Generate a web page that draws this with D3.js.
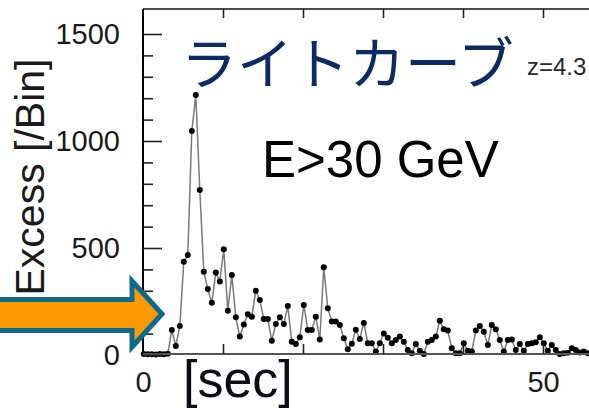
<!DOCTYPE html>
<html>
<head>
<meta charset="utf-8">
<script src="https://cdn.jsdelivr.net/npm/d3@7"></script>
<style>
  html, body { margin: 0; padding: 0; background: #fff; overflow: hidden; }
  svg { display: block; }
</style>
</head>
<body>
<svg id="chart" width="589" height="408"></svg>
<script>
// Light curve: excess counts per 0.5 s bin, E > 30 GeV
const binStart = 0.1;      // centre of the first bin [sec]
const binWidth = 0.5;      // [sec]
const excess = [
  5, 3, 4, 2, 5, 3, 6,
  117, 42, 135, 436, 467, 1047, 1215, 771, 389, 308, 244, 385, 344,
  494, 207, 374, 176, 86, 143, 190, 179, 300, 257, 168, 168, 67,
  145, 176, 145, 229, 62, 51, 83, 234, 117, 117, 179, 73, 410,
  218, 156, 156, 140, 78, 27, 53, 118, 75, 150, 55, 55, 16, 55,
  101, 81, 55, 70, 86, 62, 23, 8, 51, 20, 5, 62, 70, 86, 160,
  120, 114, 31, 8, 8, 55, 20, 16, 114, 136, 109, 47, 140, 120,
  70, 16, 70, 73, 23, 51, 20, 51, 55, 59, 83, 55, 20, 47, 23,
  5, 8, 11, 31, 23, 12, 16, 8, 10
];
const yMajorTicks = [0, 500, 1000, 1500];
const yMinorTicks = [100, 200, 300, 400, 600, 700, 800, 900, 1100, 1200, 1300, 1400];
const xTicks = [10, 20, 30, 40, 50];
const xTickLabels = [0, 50];

const titleText = "ライトカーブ";
const energyText = "E>30 GeV";
const redshiftText = "z=4.3";
const yAxisTitle = "Excess [/Bin]";
const xAxisTitle = "[sec]";

const svg = d3.select("#chart");
const frame = { left: 143, top: 9, bottom: 355, right: 600 };

const x = d3.scaleLinear().domain([0, 50]).range([143, 543]);
const y = d3.scaleLinear().domain([0, 1500]).range([355, 34]);

const points = excess.map((v, i) => ({ t: binStart + i * binWidth, v }));

const labelFont = "'Liberation Sans', Arial, Helvetica, sans-serif";

// ---- data: thin grey polyline with black markers
const g = svg.append("g");
g.append("path")
  .datum(points)
  .attr("fill", "none")
  .attr("stroke", "#7a7a7a")
  .attr("stroke-width", 1.5)
  .attr("d", d3.line().x(d => x(d.t)).y(d => y(d.v)));
g.selectAll("circle")
  .data(points)
  .join("circle")
  .attr("cx", d => x(d.t))
  .attr("cy", d => y(d.v))
  .attr("r", 3)
  .attr("fill", "#000");

// ---- frame lines
svg.append("path")
  .attr("d", `M${frame.left},${frame.top}V${frame.bottom}`)
  .attr("stroke", "#000").attr("stroke-width", 2).attr("fill", "none");
svg.append("path")
  .attr("d", `M${frame.left},${frame.top}H${frame.right}`)
  .attr("stroke", "#111").attr("stroke-width", 1.5).attr("fill", "none");
svg.append("path")
  .attr("d", `M${frame.left},${frame.bottom - 1}H${frame.right}`)
  .attr("stroke", "#555").attr("stroke-width", 2).attr("fill", "none");

// ---- y axis: major ticks with labels, minor ticks, pointing inward
const yMajor = svg.append("g")
  .attr("transform", `translate(${frame.left},0)`)
  .call(d3.axisLeft(y).tickValues(yMajorTicks).tickSizeInner(-19).tickSizeOuter(0)
    .tickPadding(23).tickFormat(d3.format("d")));
const yMinor = svg.append("g")
  .attr("transform", `translate(${frame.left},0)`)
  .call(d3.axisLeft(y).tickValues(yMinorTicks).tickSizeInner(-10).tickSizeOuter(0).tickFormat(""));

// ---- x axis: ticks on bottom (upward) and top (downward)
const xBottom = svg.append("g")
  .attr("transform", `translate(0,${frame.bottom - 1})`)
  .call(d3.axisBottom(x).tickValues(xTicks).tickSizeInner(-10).tickSizeOuter(0).tickFormat(""));
const xTop = svg.append("g")
  .attr("transform", `translate(0,${frame.top})`)
  .call(d3.axisTop(x).tickValues(xTicks).tickSizeInner(-9).tickSizeOuter(0).tickFormat(""));
const xLabels = svg.append("g")
  .attr("transform", `translate(0,${frame.bottom - 1})`)
  .call(d3.axisBottom(x).tickValues(xTickLabels).tickSize(0).tickPadding(17).tickFormat(d3.format("d")));

[yMajor, yMinor, xBottom, xTop, xLabels].forEach(a => a.select(".domain").remove());
[yMajor, yMinor, xBottom, xTop].forEach(a => a.selectAll(".tick line").attr("stroke", "#222").attr("stroke-width", 1.6));
xLabels.selectAll(".tick line").remove();
[yMajor, xLabels].forEach(a => a.selectAll(".tick text")
  .attr("font-family", labelFont)
  .attr("font-size", 29)
  .attr("fill", "#1a1a1a"));

// ---- axis titles
svg.append("text")
  .attr("transform", "translate(44,177) rotate(-90)")
  .attr("text-anchor", "middle")
  .attr("font-family", labelFont)
  .attr("font-size", 41)
  .attr("fill", "#1a1a1a")
  .text(yAxisTitle);

svg.append("text")
  .attr("x", 183)
  .attr("y", 397)
  .attr("font-family", labelFont)
  .attr("font-size", 52)
  .attr("fill", "#0d0d18")
  .text(xAxisTitle);

// ---- annotations
svg.append("text")
  .attr("x", 181)
  .attr("y", 84)
  .attr("font-family", "'Noto Sans CJK JP', 'Noto Sans CJK SC', sans-serif")
  .attr("font-size", 56)
  .attr("fill", "#0b2a68")
  .text(titleText);

svg.append("text")
  .attr("x", 527)
  .attr("y", 75)
  .attr("font-family", labelFont)
  .attr("font-size", 24)
  .attr("fill", "#2a2a2a")
  .text(redshiftText);

svg.append("text")
  .attr("x", 262)
  .attr("y", 177)
  .attr("font-family", labelFont)
  .attr("font-size", 51)
  .attr("fill", "#000")
  .text(energyText);

// ---- arrow pointing at the burst onset
const arrowPath = d3.path();
arrowPath.moveTo(-10, 299.5);
arrowPath.lineTo(132, 299.5);
arrowPath.lineTo(132, 281);
arrowPath.lineTo(162, 314);
arrowPath.lineTo(132, 347);
arrowPath.lineTo(132, 330.5);
arrowPath.lineTo(-10, 330.5);
arrowPath.closePath();
svg.append("path")
  .attr("d", arrowPath.toString())
  .attr("fill", "#fb9a00")
  .attr("stroke", "#0c6a8c")
  .attr("stroke-width", 5)
  .attr("stroke-linejoin", "miter");
</script>
</body>
</html>
